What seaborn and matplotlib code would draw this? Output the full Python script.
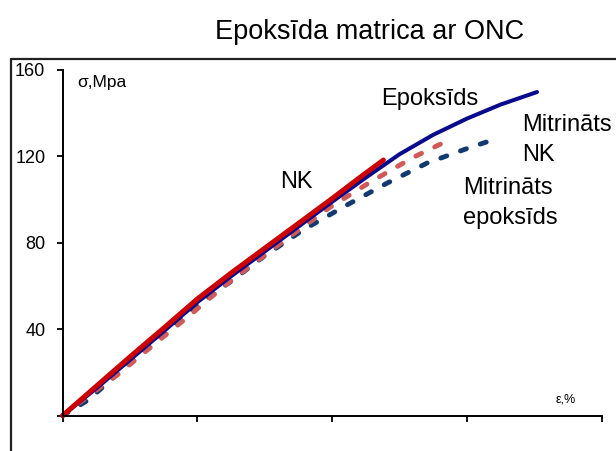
import matplotlib
matplotlib.use("Agg")
import matplotlib.pyplot as plt
from matplotlib.lines import Line2D
import seaborn as sns

# Stress-strain curves: strain (%) and stress (MPa)
epoxy_strain = [0.0, 0.25, 0.5, 0.75, 1.0, 1.25, 1.5, 1.75, 2.0, 2.25, 2.5, 2.75, 3.0, 3.25, 3.52]
epoxy_stress = [0.0, 12.6, 25.8, 39.0, 52.5, 64.5, 76.0, 87.5, 99.0, 110.2, 121.0, 130.0, 137.5, 144.0, 149.8]

nk_strain = [0.0, 0.25, 0.5, 0.75, 1.0, 1.25, 1.5, 1.75, 2.0, 2.2, 2.38]
nk_stress = [0.0, 13.6, 27.2, 40.5, 54.0, 66.0, 77.5, 89.0, 100.5, 110.0, 118.3]

wet_nk_strain = [0.0, 0.2, 0.41, 0.67, 0.945, 1.19, 1.43, 1.71, 1.985, 2.28, 2.6, 2.88]
wet_nk_stress = [0.0, 9.5, 19.0, 32.5, 46.5, 59.5, 71.0, 84.0, 96.5, 108.0, 119.5, 128.0]

wet_epoxy_strain = [0.0, 0.19, 0.44, 0.685, 0.967, 1.242, 1.487, 1.783, 2.11, 2.407, 2.704, 3.008, 3.186]
wet_epoxy_stress = [0.0, 7.2, 21.1, 35.0, 49.8, 61.8, 73.4, 85.9, 97.5, 107.6, 116.9, 123.8, 127.5]

y_ticks = [0, 40, 80, 120, 160]
y_tick_labels = ["", "40", "80", "120", "160"]
x_ticks = [0, 1, 2, 3, 4]

title = "Epoksīda matrica ar ONC"

sns.set_theme(style="white")
plt.rcParams["font.family"] = ["Liberation Sans", "DejaVu Sans"]

W, H = 616, 451
fig = plt.figure(figsize=(W / 100, H / 100), dpi=100)
ax = fig.add_axes([62.7 / W, 1 - 415.5 / H, (601.7 - 62.7) / W, (415.5 - 70) / H])

dash = (0, (1.3, 3.0))
sns.lineplot(x=wet_epoxy_strain, y=wet_epoxy_stress, ax=ax, color="#123a70",
             lw=3.5, linestyle=dash, sort=False, estimator=None)
sns.lineplot(x=wet_nk_strain, y=wet_nk_stress, ax=ax, color="#d05a58",
             lw=3.5, linestyle=dash, sort=False, estimator=None)
sns.lineplot(x=epoxy_strain, y=epoxy_stress, ax=ax, color="#0a0a8c",
             lw=2.9, sort=False, estimator=None)
sns.lineplot(x=nk_strain, y=nk_stress, ax=ax, color="#cc0000",
             lw=3.6, sort=False, estimator=None)
for ln in ax.lines:
    ln.set_clip_on(False)
    ln.set_dash_capstyle("round")
    ln.set_solid_capstyle("round")

ax.set_xlim(0, 4)
ax.set_ylim(0, 160)
ax.set_xticks(x_ticks)
ax.set_xticklabels([])
ax.set_yticks(y_ticks)
ax.set_yticklabels(y_tick_labels, fontsize=13)
ax.set_xlabel("")
ax.set_ylabel("")
for side in ("top", "right"):
    ax.spines[side].set_visible(False)
for side in ("left", "bottom"):
    ax.spines[side].set_color("black")
    ax.spines[side].set_linewidth(1.4)
ax.tick_params(axis="both", direction="out", length=4.5, width=1.3, color="black",
               left=True, bottom=True, pad=8, labelcolor="black")

def px(x, y):
    return x / W, 1 - y / H

fig.text(*px(370, 32), title, ha="center", va="center", fontsize=19.5, color="black")
fig.text(*px(77, 83), "σ,Mpa", ha="left", va="center", fontsize=12.5, color="black")
fig.text(*px(556, 400), "ε,%", ha="left", va="center", fontsize=9, color="black")

lab = dict(fontsize=17, color="black", ha="left", va="center")
fig.text(*px(381, 99), "Epoksīds", **lab)
fig.text(*px(280, 182), "NK", **lab)
fig.text(*px(522, 125), "Mitrināts", **lab)
fig.text(*px(522, 155), "NK", **lab)
fig.text(*px(463, 188), "Mitrināts", **lab)
fig.text(*px(463, 218), "epoksīds", **lab)

# outer chart border (left and top edges)
fig.add_artist(Line2D([11 / W, 11 / W], [0, 1 - 59 / H], transform=fig.transFigure,
                      color="#222222", lw=1.6))
fig.add_artist(Line2D([11 / W, 1], [1 - 59 / H, 1 - 59 / H], transform=fig.transFigure,
                      color="#222222", lw=1.6))

fig.savefig("out.png", dpi=100)
